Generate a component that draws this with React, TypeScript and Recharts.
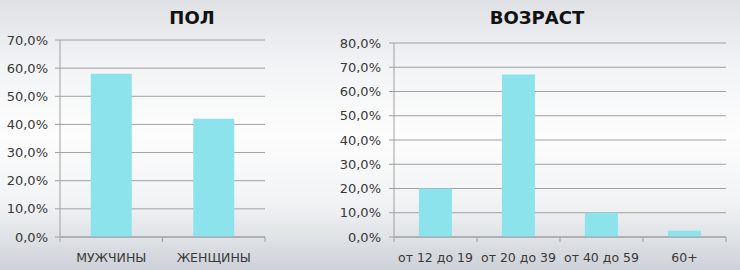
import React from "react";
import { BarChart, Bar, XAxis, YAxis, CartesianGrid } from "recharts";

const genderCats = ["МУЖЧИНЫ", "ЖЕНЩИНЫ"];
const genderValues = [0.58, 0.42];
const genderTicks = [0, 0.1, 0.2, 0.3, 0.4, 0.5, 0.6, 0.7];

const ageCats = ["от 12 до 19", "от 20 до 39", "от 40 до 59", "60+"];
const ageValues = [0.2, 0.67, 0.1, 0.026];
const ageTicks = [0, 0.1, 0.2, 0.3, 0.4, 0.5, 0.6, 0.7, 0.8];

const BAR = "#8ce3ec";
const GRID = "#a0a0a0";
const TEXT = "#383838";
const FONT = "'DejaVu Sans', sans-serif";

const pct = (v: number) => `${(v * 100).toFixed(1).replace(".", ",")}%`;

function makeTick(band: number, count: number) {
  return (props: any) => {
    const { x, y, payload, index } = props;
    const axisY = y - 8;
    return (
      <g>
        <line x1={x - band / 2} x2={x - band / 2} y1={axisY} y2={axisY + 5} stroke={GRID} />
        {index === count - 1 && (
          <line x1={x + band / 2} x2={x + band / 2} y1={axisY} y2={axisY + 5} stroke={GRID} />
        )}
        <text x={x} y={axisY + 25} textAnchor="middle" fill={TEXT} fontSize={12.5} fontFamily={FONT}>
          {payload.value}
        </text>
      </g>
    );
  };
}

function Title({ text, x }: { text: string; x: number }) {
  return (
    <div
      style={{
        position: "absolute",
        left: x - 100,
        width: 200,
        top: 7,
        textAlign: "center",
        fontFamily: FONT,
        fontWeight: "bold",
        fontSize: 18,
        color: "#111",
      }}
    >
      {text}
    </div>
  );
}

export default function App() {
  const genderData = genderCats.map((c, i) => ({ name: c, value: genderValues[i] }));
  const ageData = ageCats.map((c, i) => ({ name: c, value: ageValues[i] }));

  const yTick = { fill: TEXT, fontSize: 13, fontFamily: FONT };

  return (
    <div
      style={{
        position: "absolute",
        left: 0,
        top: 0,
        width: 740,
        height: 270,
        overflow: "hidden",
        background:
          "linear-gradient(to bottom, #dfe1e5 0%, #f3f4f6 25%, #fdfdfd 50%, #f2f3f5 75%, #cdd2d8 100%)",
      }}
    >
      <Title text="ПОЛ" x={192} />
      <Title text="ВОЗРАСТ" x={537} />

      <div style={{ position: "absolute", left: 0, top: 0 }}>
        <BarChart
          width={280}
          height={270}
          data={genderData}
          margin={{ top: 40, right: 15, left: 0, bottom: 3 }}
          barCategoryGap="30%"
        >
          <CartesianGrid vertical={false} stroke={GRID} />
          <XAxis
            dataKey="name"
            height={30}
            axisLine={{ stroke: GRID }}
            tickLine={false}
            interval={0}
            tick={makeTick(102.5, genderCats.length)}
          />
          <YAxis
            width={60}
            domain={[0, 0.7]}
            ticks={genderTicks}
            tickFormatter={pct}
            axisLine={{ stroke: GRID }}
            tickLine={{ stroke: GRID }}
            tickSize={5}
            tickMargin={7}
            tick={yTick}
          />
          <Bar dataKey="value" fill={BAR} isAnimationActive={false} />
        </BarChart>
      </div>

      <div style={{ position: "absolute", left: 300, top: 0 }}>
        <BarChart
          width={440}
          height={270}
          data={ageData}
          margin={{ top: 43, right: 14, left: 0, bottom: 3 }}
          barCategoryGap="30%"
        >
          <CartesianGrid vertical={false} stroke={GRID} />
          <XAxis
            dataKey="name"
            height={30}
            axisLine={{ stroke: GRID }}
            tickLine={false}
            interval={0}
            tick={makeTick(83, ageCats.length)}
          />
          <YAxis
            width={94}
            domain={[0, 0.8]}
            ticks={ageTicks}
            tickFormatter={pct}
            axisLine={{ stroke: GRID }}
            tickLine={{ stroke: GRID }}
            tickSize={5}
            tickMargin={8}
            tick={yTick}
          />
          <Bar dataKey="value" fill={BAR} isAnimationActive={false} />
        </BarChart>
      </div>
    </div>
  );
}
